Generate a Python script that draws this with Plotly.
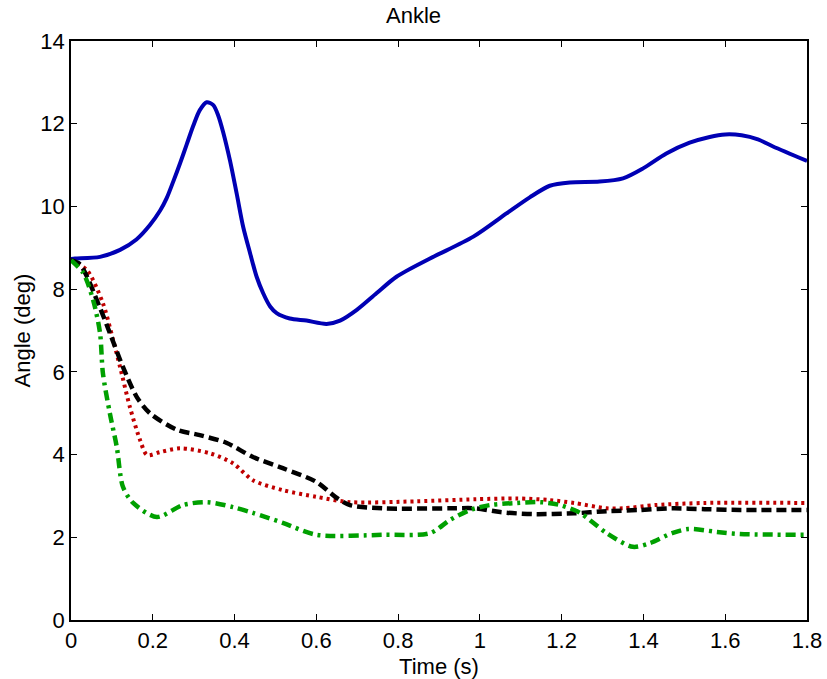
import plotly.graph_objects as go

# Ankle angle traces (time in s, angle in deg)
t_blue = [0.0, 0.01, 0.071, 0.12, 0.16, 0.193, 0.218, 0.234, 0.25, 0.267, 0.283, 0.299,
          0.315, 0.332, 0.348, 0.36, 0.372, 0.389, 0.405, 0.421, 0.438, 0.454, 0.47,
          0.487, 0.503, 0.535, 0.576, 0.625, 0.658, 0.699, 0.747, 0.796, 0.878, 0.984,
          1.065, 1.122, 1.171, 1.22, 1.293, 1.35, 1.399, 1.456, 1.513, 1.562, 1.6, 1.64,
          1.68, 1.717, 1.8]
a_blue = [8.73, 8.74, 8.78, 8.95, 9.2, 9.55, 9.9, 10.2, 10.6, 11.05, 11.5, 11.95,
          12.33, 12.52, 12.45, 12.2, 11.8, 11.1, 10.32, 9.51, 8.87, 8.3, 7.9,
          7.58, 7.42, 7.29, 7.24, 7.16, 7.24, 7.5, 7.9, 8.3, 8.74, 9.27,
          9.83, 10.22, 10.5, 10.58, 10.6, 10.68, 10.92, 11.28, 11.54, 11.68, 11.74, 11.72,
          11.62, 11.45, 11.1]

t_black = [0.0, 0.022, 0.07, 0.095, 0.127, 0.161, 0.193, 0.259, 0.315, 0.381, 0.445, 0.518,
           0.6, 0.65, 0.682, 0.763, 0.927, 0.99, 1.05, 1.13, 1.23, 1.31, 1.39, 1.47, 1.55,
           1.636, 1.8]
a_black = [8.7, 8.6, 7.57, 6.94, 6.12, 5.39, 5.0, 4.6, 4.47, 4.28, 3.94, 3.67,
           3.34, 2.95, 2.78, 2.7, 2.7, 2.7, 2.61, 2.56, 2.58, 2.63, 2.66, 2.7, 2.68,
           2.66, 2.66]

t_red = [0.0, 0.039, 0.078, 0.103, 0.12, 0.144, 0.169, 0.186, 0.218, 0.267, 0.34, 0.396,
         0.445, 0.518, 0.6, 0.682, 0.846, 0.99, 1.09, 1.17, 1.23, 1.31, 1.35, 1.43, 1.55, 1.8]
a_red = [8.7, 8.46, 7.66, 6.77, 6.12, 5.15, 4.35, 3.99, 4.06, 4.15, 4.03, 3.79,
         3.38, 3.14, 2.98, 2.85, 2.87, 2.92, 2.94, 2.9, 2.83, 2.7, 2.7, 2.78, 2.83, 2.83]

t_green = [0.0, 0.03, 0.054, 0.071, 0.078, 0.095, 0.112, 0.127, 0.152, 0.21, 0.274, 0.333,
           0.396, 0.445, 0.518, 0.6, 0.763, 0.878, 0.927, 0.976, 1.025, 1.09, 1.147, 1.196,
           1.245, 1.31, 1.374, 1.416, 1.47, 1.51, 1.58, 1.636, 1.8]
a_green = [8.7, 8.39, 7.74, 6.94, 5.97, 5.0, 4.18, 3.22, 2.83, 2.49, 2.78, 2.85,
           2.73, 2.59, 2.35, 2.06, 2.06, 2.1, 2.42, 2.66, 2.78, 2.83, 2.85, 2.78,
           2.59, 2.1, 1.77, 1.86, 2.1, 2.2, 2.13, 2.08, 2.06]

x_ticks = [0, 0.2, 0.4, 0.6, 0.8, 1, 1.2, 1.4, 1.6, 1.8]
x_tick_text = ["0", "0.2", "0.4", "0.6", "0.8", "1", "1.2", "1.4", "1.6", "1.8"]
y_ticks = [0, 2, 4, 6, 8, 10, 12, 14]

FONT = "Liberation Sans"
W, H = 827, 679
M = dict(l=71, r=20, t=41, b=59)
plot_w = W - M["l"] - M["r"]

fig = go.Figure()
fig.add_trace(go.Scatter(x=t_blue, y=a_blue, mode="lines",
                         line=dict(color="#0000b4", width=4, shape="spline", smoothing=0.8)))
fig.add_trace(go.Scatter(x=t_red, y=a_red, mode="lines",
                         line=dict(color="#c00000", width=4, dash="3px,4px",
                                   shape="spline", smoothing=0.8)))
fig.add_trace(go.Scatter(x=t_black, y=a_black, mode="lines",
                         line=dict(color="#000000", width=4.5, dash="10px,5px",
                                   shape="spline", smoothing=0.8)))
fig.add_trace(go.Scatter(x=t_green, y=a_green, mode="lines",
                         line=dict(color="#00a000", width=4.5, dash="10px,5px,3px,5px",
                                   shape="spline", smoothing=0.8)))

axis_common = dict(showgrid=False, zeroline=False, showline=True, linecolor="black",
                   linewidth=1.5, mirror="ticks", ticks="inside", ticklen=6,
                   tickcolor="black", automargin=False,
                   tickfont=dict(family=FONT, size=22, color="black"))

fig.update_layout(
    width=W, height=H,
    margin=M,
    plot_bgcolor="white", paper_bgcolor="white",
    showlegend=False,
    title=dict(text="Ankle", x=0.5, xanchor="center", y=0.978, yanchor="middle",
               font=dict(family=FONT, size=22, color="black")),
    xaxis=dict(range=[0, 1.8], tickvals=x_ticks, ticktext=x_tick_text,
               title=dict(text="Time (s)",
                          font=dict(family=FONT, size=22, color="black")),
               **axis_common),
    yaxis=dict(range=[0, 14], tickvals=y_ticks, **axis_common),
    annotations=[dict(text="Angle (deg)", textangle=-90, showarrow=False,
                      xref="paper", yref="paper", x=(22 - M["l"]) / plot_w, y=0.5,
                      xanchor="center", yanchor="middle",
                      font=dict(family=FONT, size=22, color="black"))],
)

fig.write_html("out.html")
